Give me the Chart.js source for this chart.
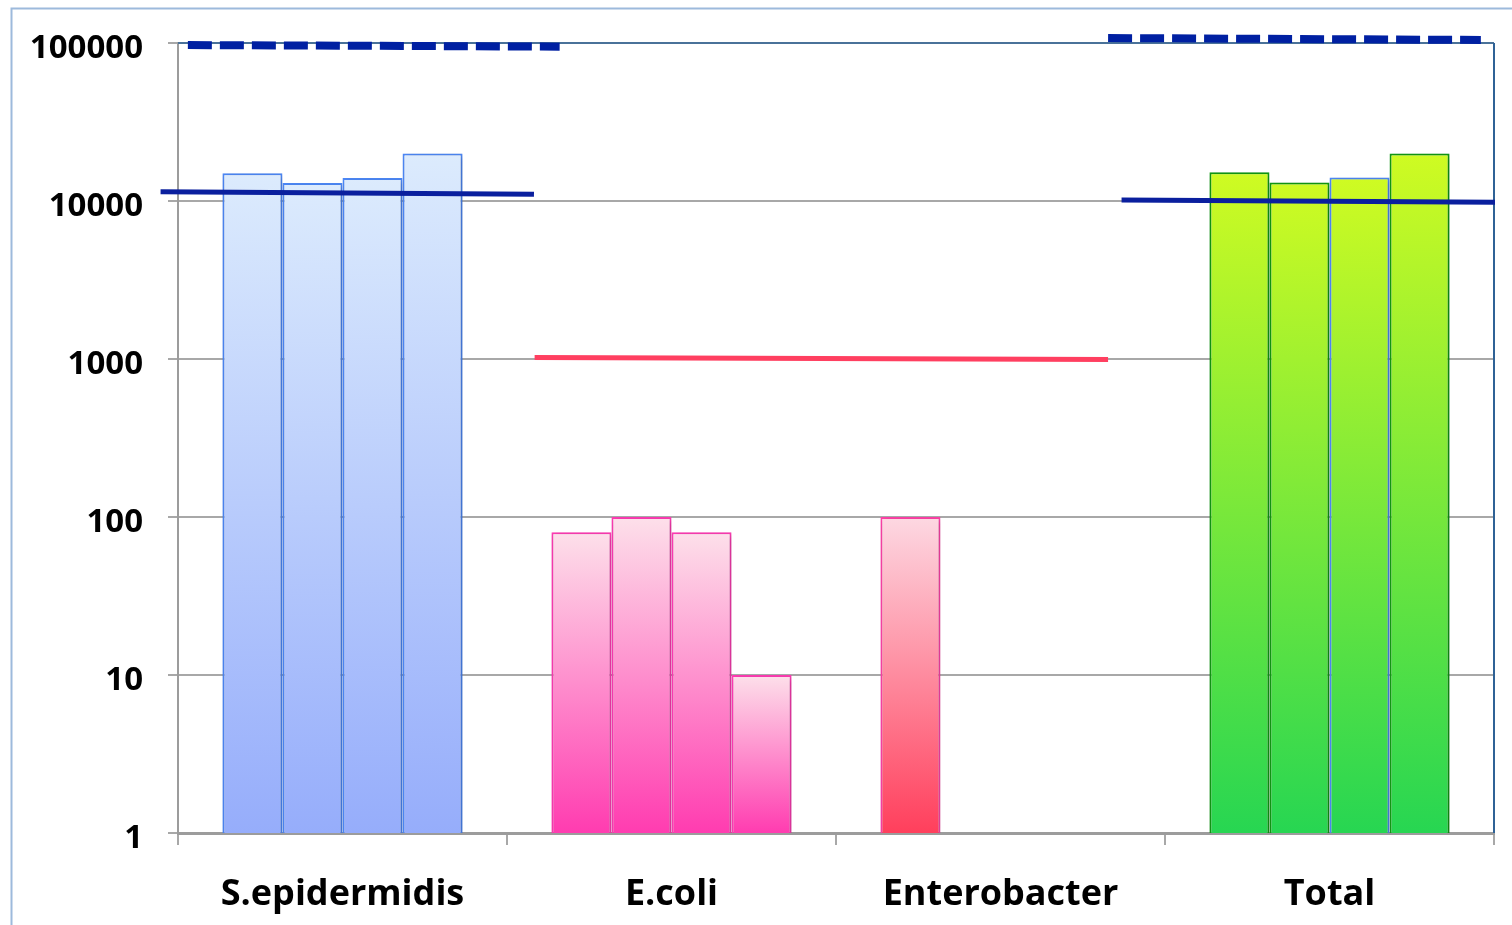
<!DOCTYPE html>
<html>
<head>
<meta charset="utf-8">
<script src="https://cdn.jsdelivr.net/npm/chart.js@4/dist/chart.umd.min.js"></script>
<style>
  html, body { margin: 0; padding: 0; background: #ffffff; }
  #wrap { width: 1512px; height: 925px; position: relative; }
</style>
</head>
<body>
<div id="wrap"><canvas id="c" width="1512" height="925"></canvas></div>
<script>
// Bacterial counts per organism (four samples each), log scale
const categories = ['S.epidermidis', 'E.coli', 'Enterobacter', 'Total'];
const sample1 = [15000, 80, 100, 15200];
const sample2 = [13000, 100, null, 13100];
const sample3 = [14000, 80, null, 14100];
const sample4 = [20000, 10, null, 20000];
const yTicks = [1, 10, 100, 1000, 10000, 100000];

// Reference levels; x is the category position (0 = first group centre)
const sepiUpper = [{ x: -0.47, y: 97100 }, { x: 0.66, y: 94800 }];
const sepiMean = [{ x: -0.553, y: 11450 }, { x: 0.582, y: 11030 }];
const gramNegMean = [{ x: 0.584, y: 1022 }, { x: 2.327, y: 993 }];
const totalUpper = [{ x: 2.327, y: 107500 }, { x: 3.46, y: 104500 }];
const totalMean = [{ x: 2.368, y: 10150 }, { x: 3.503, y: 9810 }];

// Fill gradients per category (top colour, bottom colour) and outlines
const fills = [
  ['#dcebfd', '#96adfb'],
  ['#fde0ea', '#ff3cb0'],
  ['#fdd8e2', '#ff3f5c'],
  ['#cffb22', '#27d652']
];
const outlines = ['#4d88f7', '#ff3cb4', '#ff42a8', '#119a12'];

function barFill(ctx) {
  const chart = ctx.chart;
  const area = chart.chartArea;
  const i = ctx.dataIndex;
  const v = ctx.parsed ? ctx.parsed.y : null;
  if (!area || v == null) return fills[i][1];
  const y = chart.scales.y;
  const top = y.getPixelForValue(v);
  const bottom = y.getPixelForValue(1);
  if (!isFinite(top) || bottom - top < 1) return fills[i][1];
  const g = chart.ctx.createLinearGradient(0, top, 0, bottom);
  g.addColorStop(0, fills[i][0]);
  g.addColorStop(1, fills[i][1]);
  return g;
}

function barOutline(ctx) {
  // third Total bar carries a blue outline
  if (ctx.datasetIndex === 2 && ctx.dataIndex === 3) return '#4d88f7';
  return outlines[ctx.dataIndex];
}

const barDataset = (label, values) => ({
  type: 'bar',
  label,
  data: values.map((v, i) => ({ x: i, y: v })),
  backgroundColor: barFill,
  borderColor: barOutline,
  borderWidth: 2,
  borderSkipped: 'bottom',
  categoryPercentage: 0.73,
  barPercentage: 1.0,
  order: 2
});

const lineDataset = (label, data, color, width, dash) => ({
  type: 'line',
  label,
  data,
  borderColor: color,
  borderWidth: width,
  borderDash: dash,
  borderCapStyle: 'butt',
  pointRadius: 0,
  fill: false,
  clip: false,
  order: 0
});

// Outer frame, plot frame, and soft bar shadows
const framePlugin = {
  id: 'frame',
  beforeDraw(chart) {
    const c = chart.ctx;
    c.save();
    c.strokeStyle = '#9dbadc';
    c.lineWidth = 2;
    c.beginPath();
    c.moveTo(11.5, 925);
    c.lineTo(11.5, 8.5);
    c.lineTo(1512, 8.5);
    c.stroke();
    c.restore();
  },
  beforeDatasetsDraw(chart) {
    const a = chart.chartArea;
    const c = chart.ctx;
    c.save();
    c.strokeStyle = '#4a7299';
    c.lineWidth = 2;
    c.beginPath();
    c.moveTo(a.left, a.top);
    c.lineTo(a.right, a.top);
    c.stroke();
    c.strokeStyle = '#2f6296';
    c.beginPath();
    c.moveTo(a.right, a.top);
    c.lineTo(a.right, a.bottom);
    c.stroke();
    c.restore();
  },
  beforeDatasetDraw(chart, args) {
    if (args.meta.type === 'bar') {
      const c = chart.ctx;
      c.save();
      c.shadowColor = 'rgba(0,0,0,0.22)';
      c.shadowBlur = 6;
      c.shadowOffsetX = 2;
      c.shadowOffsetY = 2;
    }
  },
  afterDatasetDraw(chart, args) {
    if (args.meta.type === 'bar') chart.ctx.restore();
  }
};

new Chart(document.getElementById('c'), {
  type: 'bar',
  data: {
    datasets: [
      barDataset('Sample 1', sample1),
      barDataset('Sample 2', sample2),
      barDataset('Sample 3', sample3),
      barDataset('Sample 4', sample4),
      lineDataset('S.epidermidis upper', sepiUpper, '#0020a2', 8, [24, 8]),
      lineDataset('S.epidermidis mean', sepiMean, '#0a1f9e', 5, []),
      lineDataset('Gram-negative mean', gramNegMean, '#ff3f60', 5, []),
      lineDataset('Total upper', totalUpper, '#0020a2', 8, [24, 8]),
      lineDataset('Total mean', totalMean, '#0a1f9e', 5, [])
    ]
  },
  options: {
    responsive: false,
    animation: false,
    layout: { padding: { left: 0, right: 18, top: 43, bottom: 0 } },
    plugins: { legend: { display: false }, tooltip: { enabled: false } },
    scales: {
      x: {
        type: 'linear',
        min: -0.5,
        max: 3.5,
        offset: false,
        // tick marks sit on the group boundaries; names are shifted to the group centres
        afterBuildTicks(scale) {
          scale.ticks = [-0.5, 0.5, 1.5, 2.5, 3.5].map(v => ({ value: v }));
        },
        grid: {
          offset: false,
          drawOnChartArea: false,
          drawTicks: true,
          tickLength: 12,
          color: '#a8a8a8',
          lineWidth: 2
        },
        border: { display: true, color: '#9c9c9c', width: 3 },
        ticks: {
          color: '#000000',
          padding: 28,
          maxRotation: 0,
          autoSkip: false,
          labelOffset: 164.5,
          font: { family: '"Open Sans"', weight: 'bold', size: 36 },
          callback: (v) => categories[Math.round(v + 0.5)] || ''
        },
        afterFit(scale) {
          scale.height = 92;
          scale.paddingLeft = 0;
          scale.paddingRight = 0;
        }
      },
      y: {
        type: 'logarithmic',
        min: 1,
        max: 100000,
        offset: false,
        afterBuildTicks(scale) { scale.ticks = yTicks.map(v => ({ value: v })); },
        grid: { color: '#a8a8a8', lineWidth: 2, tickLength: 10 },
        border: { display: true, color: '#9c9c9c', width: 2 },
        ticks: {
          color: '#000000',
          padding: 25,
          labelOffset: 6,
          font: { family: '"Open Sans"', weight: 'bold', size: 33 },
          callback: (v) => String(v)
        },
        afterFit(scale) {
          scale.width = 178;
          scale.paddingTop = 0;
          scale.paddingBottom = 0;
        }
      }
    }
  },
  plugins: [framePlugin]
});
</script>
</body>
</html>
